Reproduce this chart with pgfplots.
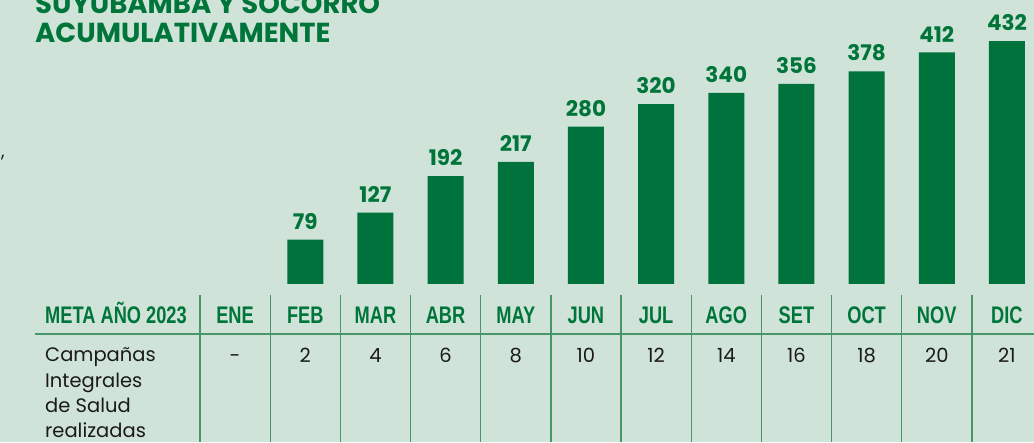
\documentclass[border=0pt]{standalone}
\usepackage{pgfplots}
\pgfplotsset{compat=1.18}
\usepackage{graphicx}
\usepackage{fontspec}
\setmainfont{Poppins}
\newfontfamily\cond{Liberation Sans}
\definecolor{bg}{RGB}{207,227,216}
\definecolor{barg}{RGB}{0,114,59}
\definecolor{tgreen}{RGB}{0,117,58}
\definecolor{rulec}{RGB}{70,150,105}
\definecolor{txt}{RGB}{26,26,26}
\newcommand\sx[1]{\scalebox{0.76}[1]{#1}}
\begin{document}
\begin{tikzpicture}[x=1pt,y=1pt]
\path[use as bounding box] (0,0) rectangle (1034,442);
\clip (0,0) rectangle (1034,442);
\fill[bg] (0,0) rectangle (1034,442);
% table rules
\foreach \k in {0,...,11} \draw[rulec, line width=1.3pt] ({200+70.17*\k},147) -- ({200+70.17*\k},0);
\draw[rulec, line width=1.3pt] (35,108) -- (1034,108);
% title
\node[anchor=base west, inner sep=0pt, text=tgreen, font=\bfseries\fontsize{27.5}{29}\selectfont] at (35,428) {SUYUBAMBA Y SOCORRO};
\node[anchor=base west, inner sep=0pt, text=tgreen, font=\bfseries\fontsize{27.5}{29}\selectfont] at (35,399) {ACUMULATIVAMENTE};
\node[anchor=base west, inner sep=0pt, text=txt, font=\fontsize{18}{18}\selectfont] at (1,284) {,};
% table header
\node[anchor=base, inner sep=0pt, text=tgreen, font=\cond\bfseries\fontsize{24}{24}\selectfont] at (116,118) {\sx{META AÑO 2023}};
% row label
\foreach \t/\yy in {Campañas/80, Integrales/54, de Salud/29, realizadas/5}
  \node[anchor=base west, inner sep=0pt, text=txt, font=\fontsize{19.5}{19.5}\selectfont] at (45,\yy) {\t};
% row values
\foreach \v [count=\i from 0] in {-,2,4,6,8,10,12,14,16,18,20,21}
  \node[anchor=base, inner sep=0pt, text=txt, font=\fontsize{19.5}{19.5}\selectfont] at ({200+70.17*(\i+0.5)},79) {\v};
\begin{axis}[
  at={(200pt,158pt)}, anchor=south west,
  scale only axis, width=842pt, height=284pt,
  xmin=-0.5, xmax=11.5, ymin=0, ymax=504.9,
  clip=false,
  /pgf/number format/assume math mode=true,
  axis line style={draw=none},
  tick style={draw=none},
  ytick=\empty,
  xtick={0,...,11},
  xticklabels={\sx{ENE},\sx{FEB},\sx{MAR},\sx{ABR},\sx{MAY},\sx{JUN},\sx{JUL},\sx{AGO},\sx{SET},\sx{OCT},\sx{NOV},\sx{DIC}},
  xticklabel style={anchor=base, yshift=-35pt, inner sep=0pt, text=tgreen, font=\cond\bfseries\fontsize{24}{24}\selectfont},
  ybar, bar width=36pt,
  nodes near coords,
  every node near coord/.append style={font=\bfseries\fontsize{21.5}{21.5}\selectfont, text=tgreen, inner sep=0pt, yshift=10pt},
]
\addplot[fill=barg, draw=none] coordinates {(1,79) (2,127) (3,192) (4,217) (5,280) (6,320) (7,340) (8,356) (9,378) (10,412) (11,432)};
\end{axis}
\end{tikzpicture}
\end{document}
